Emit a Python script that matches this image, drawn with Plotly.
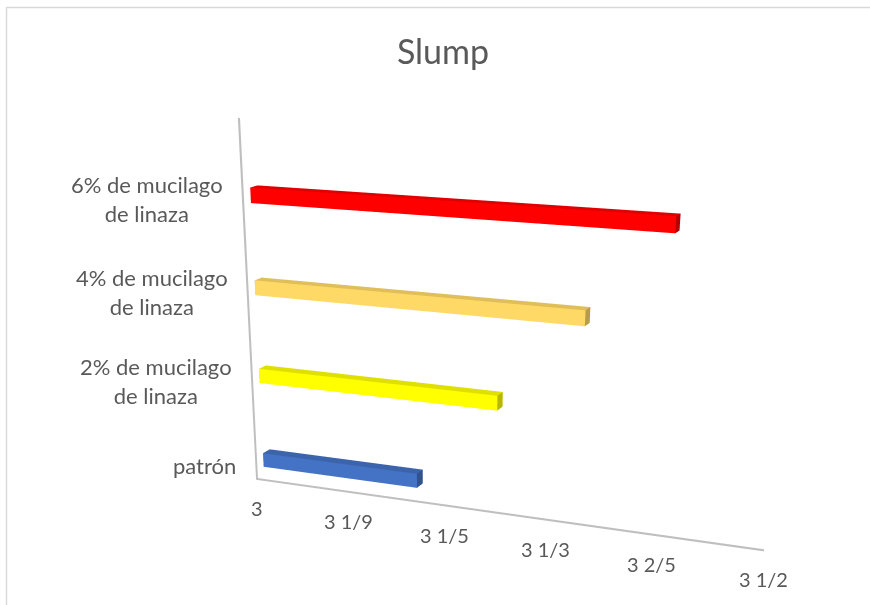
import math
import plotly.graph_objects as go

# ---- data -------------------------------------------------------------
categories = [
    "patrón",
    "2% de mucilago<br>de linaza",
    "4% de mucilago<br>de linaza",
    "6% de mucilago<br>de linaza",
]
slump = [3.165, 3.245, 3.325, 3.40]
bar_colors = ["#4472C4", "#FFFF00", "#FFD966", "#FF0000"]
tick_values = [3.0, 3.1, 3.2, 3.3, 3.4, 3.5]
tick_labels = ["3", "3 1/9", "3 1/5", "3 1/3", "3 2/5", "3 1/2"]

# ---- page / scene sizes ----------------------------------------------
W, H_VIEW = 870, 605          # visible page
H_FIG = 1300                  # tall canvas -> gentle perspective, clipped to H_VIEW

# ---- geometry of the chart box ----------------------------------------
X_MIN, X_MAX = 3.0, 3.5
Z_FLOOR, Z_TOP = -0.175, 3.815
Y_FRONT, Y_BACK = 0.0, 1.0
BAR_HALF = 0.082
BAR_Y0, BAR_Y1 = 0.233, 0.493
LINE_DX = 0.0022              # axis line thickness along x (value units)
LINE_DZ = 0.024               # axis line thickness along z (category units)

# normalised scene units per data unit, and the box centre they refer to
SCALE = dict(x=1.4 / (X_MAX - X_MIN), y=0.15 / (Y_BACK - Y_FRONT), z=0.945 / (Z_TOP - Z_FLOOR))
MID = dict(x=(X_MIN + X_MAX) / 2, y=(Y_FRONT + Y_BACK) / 2, z=(Z_FLOOR + Z_TOP) / 2)

# padded scene ranges keep the axis lines and labels clear of the clipping box
RANGE = dict(x=[X_MIN - 0.02, X_MAX + 0.02], y=[Y_FRONT - 0.2, Y_BACK], z=[Z_FLOOR - 0.1, Z_TOP + 0.05])
ASPECT = {a: (RANGE[a][1] - RANGE[a][0]) * SCALE[a] for a in "xyz"}
SHIFT = {a: (MID[a] - (RANGE[a][0] + RANGE[a][1]) / 2) * SCALE[a] for a in "xyz"}

TEXT = "#595959"
AXIS = "#BFBFBF"
FONT = "Lato"

# camera: yaw / pitch of the viewing direction and a distant eye point
PITCH = math.radians(24.9)
YAW = math.radians(22.7)
EYE0 = dict(x=1.34, y=-3.688, z=0.918)
_T = 4.5
FWD = dict(x=-math.sin(YAW) * math.cos(PITCH), y=math.cos(YAW) * math.cos(PITCH), z=-math.sin(PITCH))
EYE = {a: EYE0[a] + SHIFT[a] for a in "xyz"}
CENTER = {a: EYE[a] + _T * FWD[a] for a in "xyz"}

FLAT = dict(ambient=1.0, diffuse=0.0, specular=0.0, fresnel=0.0, roughness=1.0)


def shade(hex_color, k):
    h = hex_color.lstrip("#")
    r, g, b = (int(h[i:i + 2], 16) for i in (0, 2, 4))
    return "rgb({},{},{})".format(min(255, int(r * k)), min(255, int(g * k)), min(255, int(b * k)))


def box(x0, x1, y0, y1, z0, z1, color):
    xs = [x0, x1, x1, x0, x0, x1, x1, x0]
    ys = [y0, y0, y1, y1, y0, y0, y1, y1]
    zs = [z0, z0, z0, z0, z1, z1, z1, z1]
    tri = [
        (0, 1, 5), (0, 5, 4),   # front
        (3, 2, 6), (3, 6, 7),   # back
        (0, 1, 2), (0, 2, 3),   # bottom
        (4, 5, 6), (4, 6, 7),   # top
        (0, 3, 7), (0, 7, 4),   # left end
        (1, 2, 6), (1, 6, 5),   # right end
    ]
    face_k = [1.0, 1.0, 0.8, 0.8, 0.8, 0.8, 0.88, 0.88, 0.75, 0.75, 0.72, 0.72]
    return go.Mesh3d(
        x=xs, y=ys, z=zs,
        i=[t[0] for t in tri], j=[t[1] for t in tri], k=[t[2] for t in tri],
        facecolor=[shade(color, f) for f in face_k],
        flatshading=True, lighting=FLAT, hoverinfo="skip", showscale=False,
    )


def strip(x0, x1, z0, z1, y, color):
    """Flat rectangle in the plane y = const (used for the axis lines)."""
    return go.Mesh3d(
        x=[x0, x1, x1, x0], y=[y, y, y, y], z=[z0, z0, z1, z1],
        i=[0, 0], j=[1, 2], k=[2, 3],
        color=color, flatshading=True, lighting=FLAT, hoverinfo="skip", showscale=False,
    )


fig = go.Figure()

for idx, (val, col) in enumerate(zip(slump, bar_colors)):
    fig.add_trace(box(X_MIN, val, BAR_Y0, BAR_Y1, idx - BAR_HALF, idx + BAR_HALF, col))

# category axis line (vertical) and value axis line along the floor
fig.add_trace(strip(X_MIN - LINE_DX, X_MIN, Z_FLOOR - LINE_DZ, Z_TOP, Y_FRONT, AXIS))
fig.add_trace(strip(X_MIN - LINE_DX, X_MAX, Z_FLOOR - LINE_DZ, Z_FLOOR, Y_FRONT, AXIS))

annotations = []
for t, lab in zip(tick_values, tick_labels):
    annotations.append(dict(
        x=t, y=Y_FRONT, z=Z_FLOOR, text=lab, showarrow=False,
        xanchor="center", yanchor="middle", xshift=-1, yshift=-30,
        font=dict(family=FONT, size=20, color=TEXT),
    ))
for idx, lab in enumerate(categories):
    annotations.append(dict(
        x=X_MIN, y=Y_FRONT, z=idx, text=lab, showarrow=False,
        xanchor="right", yanchor="middle", align="center", xshift=-19, yshift=-2,
        font=dict(family=FONT, size=22, color=TEXT),
    ))

axis_off = dict(visible=False, showbackground=False, showgrid=False, zeroline=False,
                showspikes=False)

fig.update_layout(
    width=W, height=H_FIG,
    margin=dict(l=0, r=0, t=0, b=0),
    paper_bgcolor="white",
    showlegend=False,
    title=dict(text="Slump", x=443 / W, xanchor="center", y=1 - 52 / H_FIG, yanchor="middle",
               font=dict(family=FONT, size=34, color=TEXT)),
    scene=dict(
        domain=dict(x=[0.0, 1.0], y=[0.0, 1.0]),
        xaxis=dict(range=RANGE["x"], **axis_off),
        yaxis=dict(range=RANGE["y"], **axis_off),
        zaxis=dict(range=RANGE["z"], **axis_off),
        aspectmode="manual",
        aspectratio=ASPECT,
        camera=dict(
            eye=EYE,
            center=CENTER,
            up=dict(x=0, y=0, z=1),
            projection=dict(type="perspective"),
        ),
        bgcolor="white",
        annotations=annotations,
    ),
    shapes=[dict(
        type="rect", xref="paper", yref="paper",
        x0=6.5 / W, x1=1.02, y0=-0.02, y1=1 - 7.5 / H_FIG,
        line=dict(color="#D9D9D9", width=1.5), fillcolor="rgba(0,0,0,0)",
    )],
)

# show only the top part of the tall canvas
clip = (
    "var gd=document.getElementById('{plot_id}');"
    "var p=gd.parentElement;p.style.height='" + str(H_VIEW) + "px';p.style.overflow='hidden';"
    "document.body.style.margin='0';document.body.style.overflow='hidden';"
    "document.documentElement.style.overflow='hidden';"
)

fig.write_html("out.html", config={"displayModeBar": False}, post_script=clip)
